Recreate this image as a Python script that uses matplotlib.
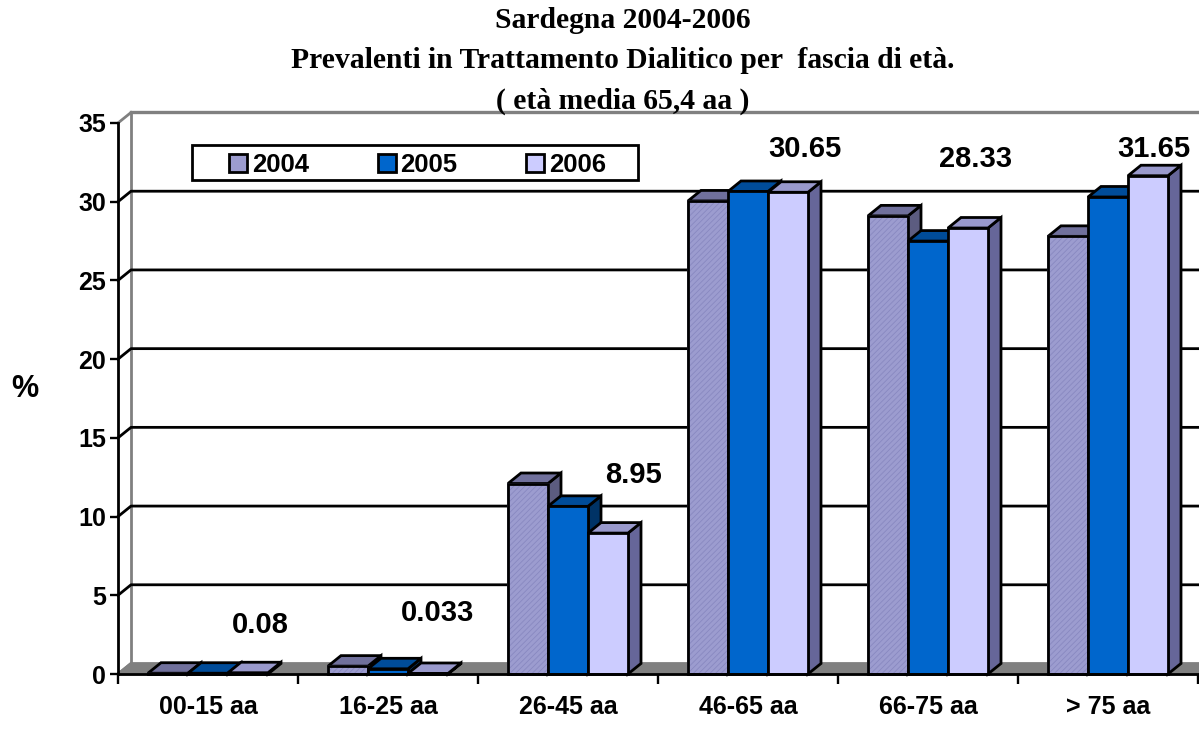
import matplotlib
matplotlib.use('Agg')
import matplotlib.pyplot as plt
from matplotlib.patches import Polygon, Rectangle

plt.rcParams['font.family'] = ['Liberation Sans', 'DejaVu Sans']
plt.rcParams['hatch.linewidth'] = 0.6

# dati
categorie = ['00-15 aa', '16-25 aa', '26-45 aa', '46-65 aa', '66-75 aa', '> 75 aa']
anni = ['2004', '2005', '2006']
v2004 = [0.05, 0.5, 12.1, 30.05, 29.1, 27.8]
v2005 = [0.05, 0.33, 10.65, 30.65, 27.5, 30.3]
v2006 = [0.08, 0.033, 8.95, 30.6, 28.33, 31.65]
etichette = ['0.08', '0.033', '8.95', '30.65', '28.33', '31.65']
yticks = [0, 5, 10, 15, 20, 25, 30, 35]

# colori: fronte, sopra, lato
colori = [('#9c9ccf', '#70709c', '#5c5c80'),
          ('#0066cc', '#004c99', '#003366'),
          ('#ccccff', '#9999cc', '#666699')]

W, H = 1199, 737
fig = plt.figure(figsize=(W / 100, H / 100), dpi=100)
ax = fig.add_axes([118 / W, 1 - 674 / H, 1080 / W, 551 / H])
ax.set_xlim(0, 6)
ax.set_ylim(0, 35)

# profondita' 3D in unita' dati
dx = 13 / 180
dy = 10.5 * 35 / 551
bw = 40 / 180
start = 30 / 180
lw = 2.0


def poly(pts, fc, z, hatch=None, ec='black'):
    p = Polygon(pts, closed=True, fc=fc, ec=ec, lw=lw, zorder=z, clip_on=False,
                joinstyle='miter', hatch=hatch)
    ax.add_patch(p)


# pavimento e pareti
poly([(0, 0), (dx, dy), (6.02, dy), (6.02, 0)], '#808080', 1, ec='#808080')
ax.plot([dx, dx], [dy, 35 + dy], color='#808080', lw=lw, zorder=1.5, clip_on=False)
ax.plot([dx, 6.02], [35 + dy, 35 + dy], color='#808080', lw=2.4, zorder=1.5, clip_on=False)
ax.plot([0, dx], [35, 35 + dy], color='#808080', lw=lw, zorder=1.5, clip_on=False)
ax.plot([0, dx], [0, dy], color='#808080', lw=lw, zorder=1.5, clip_on=False)
for t in yticks[1:-1]:
    ax.plot([0, dx, 6.02], [t, t + dy, t + dy], color='black', lw=lw, zorder=1.6, clip_on=False)

# barre
z = 3
for i in range(len(categorie)):
    for j, serie in enumerate([v2004, v2005, v2006]):
        x0 = i + start + j * bw
        x1 = x0 + bw
        h = serie[i]
        front, top, side = colori[j]
        poly([(x1, 0), (x1 + dx, dy), (x1 + dx, h + dy), (x1, h)], side, z)
        poly([(x0, h), (x0 + dx, h + dy), (x1 + dx, h + dy), (x1, h)], top, z)
        r = Rectangle((x0, 0), bw, h, fc=front, ec='black', lw=lw, zorder=z,
                      hatch='//////' if j == 0 else None, clip_on=False)
        if j == 0:
            r.set_edgecolor('#8888c0')
            ax.add_patch(r)
            r = Rectangle((x0, 0), bw, h, fc='none', ec='black', lw=lw, zorder=z, clip_on=False)
        ax.add_patch(r)
        z += 0.01

# assi
for s in ['top', 'right']:
    ax.spines[s].set_visible(False)
for s in ['left', 'bottom']:
    ax.spines[s].set_linewidth(lw)
    ax.spines[s].set_zorder(10)
ax.set_yticks(yticks)
ax.set_xticks(range(7))
ax.set_xticklabels([])
ax.set_xticks([i + 0.5 for i in range(6)], categorie, minor=True)
ax.tick_params(axis='y', length=5.5, width=1.7, labelsize=18, pad=3)
ax.tick_params(axis='x', which='major', length=7, width=1.7)
ax.tick_params(axis='x', which='minor', length=0, labelsize=18, pad=15)
for t in ax.get_yticklabels() + ax.get_xticklabels(minor=True):
    t.set_fontweight('bold')


def fx(px):
    return px / W


def fy(py):
    return 1 - py / H


# etichette dei valori
lab_x = [260, 437, 633, 805, 976, 1154]
lab_y = [625, 613, 475, 149, 159, 149]
for s, px, py in zip(etichette, lab_x, lab_y):
    fig.text(fx(px), fy(py), s, ha='center', va='center', fontsize=21, fontweight='bold', zorder=20)

fig.text(fx(25), fy(389), '%', ha='center', va='center', fontsize=22, fontweight='bold')

# titolo
titolo = ['Sardegna 2004-2006',
          'Prevalenti in Trattamento Dialitico per  fascia di età.',
          '( età media 65,4 aa )']
for s, py in zip(titolo, [20, 61, 101]):
    fig.text(fx(623), fy(py), s, ha='center', va='center', fontsize=21.35, fontweight='bold',
             family=['Liberation Serif', 'DejaVu Serif'])

# legenda
fig.add_artist(Rectangle((fx(192), fy(180)), 446 / W, 35 / H, fc='white', ec='black', lw=lw,
                         transform=fig.transFigure, zorder=5))
for anno, c, sx, tx in zip(anni, colori, [229, 378, 526], [252, 400, 549]):
    fig.add_artist(Rectangle((fx(sx), fy(172)), 18 / W, 18 / H, fc=c[0], ec='black', lw=lw,
                             transform=fig.transFigure, zorder=6))
    fig.text(fx(tx), fy(165), anno, ha='left', va='center', fontsize=18.5, fontweight='bold', zorder=7)

fig.savefig('out.png', dpi=100)
